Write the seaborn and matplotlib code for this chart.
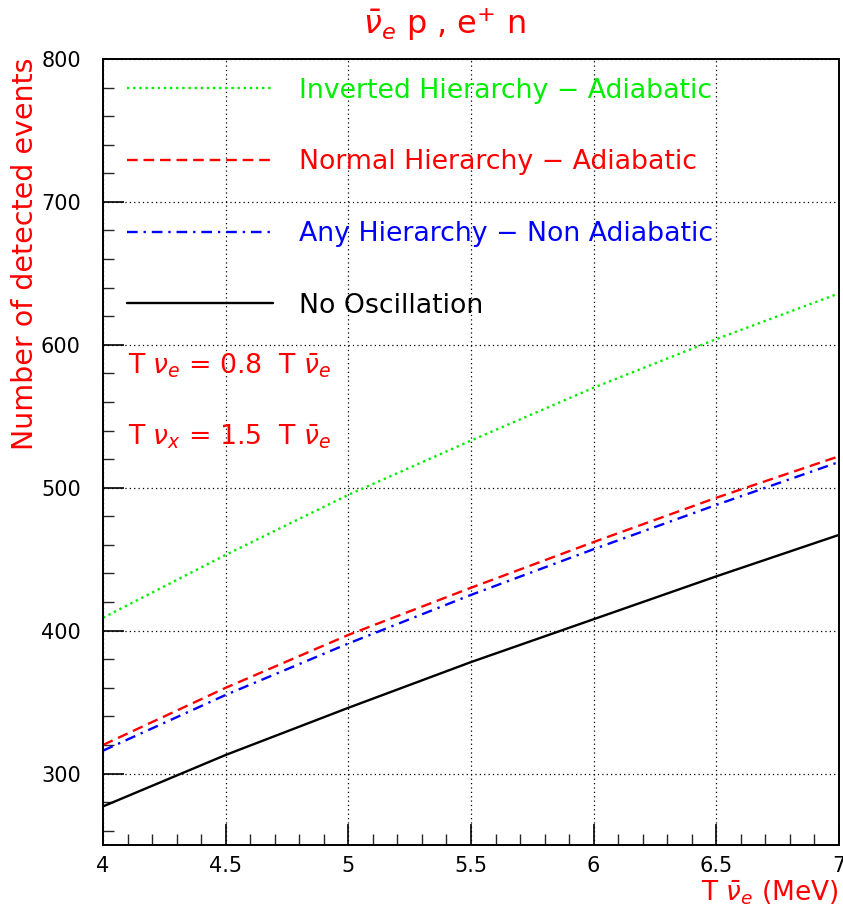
import matplotlib
matplotlib.use("Agg")
import matplotlib.pyplot as plt
import seaborn as sns
import pandas as pd
from matplotlib.ticker import MultipleLocator

# ---- data ----
temperature = [4.0, 4.5, 5.0, 5.5, 6.0, 6.5, 7.0]
inverted_adiabatic = [409, 453, 495, 533, 570, 604, 636]
normal_adiabatic = [320, 360, 397, 430, 462, 493, 522]
any_non_adiabatic = [316, 355, 391, 425, 457, 488, 518]
no_oscillation = [277, 313, 346, 378, 408, 438, 467]

series_names = [
    "Inverted Hierarchy \u2212 Adiabatic",
    "Normal Hierarchy \u2212 Adiabatic",
    "Any Hierarchy \u2212 Non Adiabatic",
    "No Oscillation",
]
series_values = [inverted_adiabatic, normal_adiabatic, any_non_adiabatic, no_oscillation]
x_tick_labels = ["4", "4.5", "5", "5.5", "6", "6.5", "7"]

rows = []
for name, vals in zip(series_names, series_values):
    for t, v in zip(temperature, vals):
        rows.append({"T": t, "events": v, "series": name})
df = pd.DataFrame(rows)

sns.set_style("ticks")
plt.rcParams["font.family"] = ["DejaVu Sans"]

palette = {
    series_names[0]: "#00ee00",
    series_names[1]: "#ff0000",
    series_names[2]: "#0000ff",
    series_names[3]: "#000000",
}
dashes = {
    series_names[0]: (1, 1.6),
    series_names[1]: (4.5, 2.5),
    series_names[2]: (4.5, 2.5, 1, 2.5),
    series_names[3]: "",
}

fig = plt.figure(figsize=(8.43, 9.15), dpi=100)
ax = fig.add_axes([103 / 843, 1 - 845 / 915, 736 / 843, 786 / 915])

sns.lineplot(data=df, x="T", y="events", hue="series", style="series",
             palette=palette, dashes=dashes, hue_order=series_names,
             style_order=series_names, linewidth=1.7, ax=ax, legend=True)

ax.set_xlim(4, 7)
ax.set_ylim(250, 800)
ax.xaxis.set_minor_locator(MultipleLocator(0.1))
ax.yaxis.set_minor_locator(MultipleLocator(20))
ax.set_yticks([300, 400, 500, 600, 700, 800])
ax.set_xticks(temperature)
ax.set_xticklabels(x_tick_labels)
ax.tick_params(axis="both", which="major", direction="in", length=15, width=1.2,
               labelsize=15, colors="black")
ax.tick_params(axis="both", which="minor", direction="in", length=8, width=1.0)
ax.tick_params(axis="y", which="major", pad=16)
ax.tick_params(axis="x", which="major", pad=8)
ax.grid(True, which="major", color="black", linestyle=(0, (1, 2.5)), linewidth=0.9)
for s in ax.spines.values():
    s.set_linewidth(1.4)
    s.set_color("black")
ax.set_xlabel("")
ax.set_ylabel("")

# legend without frame, text coloured like its line
handles, labels = ax.get_legend_handles_labels()
hl = dict(zip(labels, handles))
leg = ax.legend([hl[n] for n in series_names], series_names, loc="upper left",
                bbox_to_anchor=(0.032, 0.976), frameon=False, fontsize=19.3,
                handlelength=5.45, handletextpad=1.0, labelspacing=1.70,
                borderpad=0, borderaxespad=0, labelcolor="linecolor")
for line in leg.get_lines():
    line.set_linewidth(1.7)

# annotations
ax.text(0.034, 1 - (366 - 59) / 786, r"T $\nu_e$ = 0.8  T $\bar{\nu}_e$", transform=ax.transAxes,
        color="red", fontsize=19.3, va="center", ha="left")
ax.text(0.034, 1 - (437 - 59) / 786, r"T $\nu_x$ = 1.5  T $\bar{\nu}_e$", transform=ax.transAxes,
        color="red", fontsize=19.3, va="center", ha="left")

fig.text(445 / 843, 1 - 24 / 915, r"$\bar{\nu}_e$ p , e$^{+}$ n", color="red",
         fontsize=23, ha="center", va="center")
fig.text(25 / 843, 1 - 254 / 915, "Number of detected events", color="red",
         fontsize=20.5, rotation=90, ha="center", va="center")
fig.text(838 / 843, 1 - 893 / 915, r"T $\bar{\nu}_e$ (MeV)", color="red",
         fontsize=19, ha="right", va="center")

fig.savefig("out.png", dpi=100)
